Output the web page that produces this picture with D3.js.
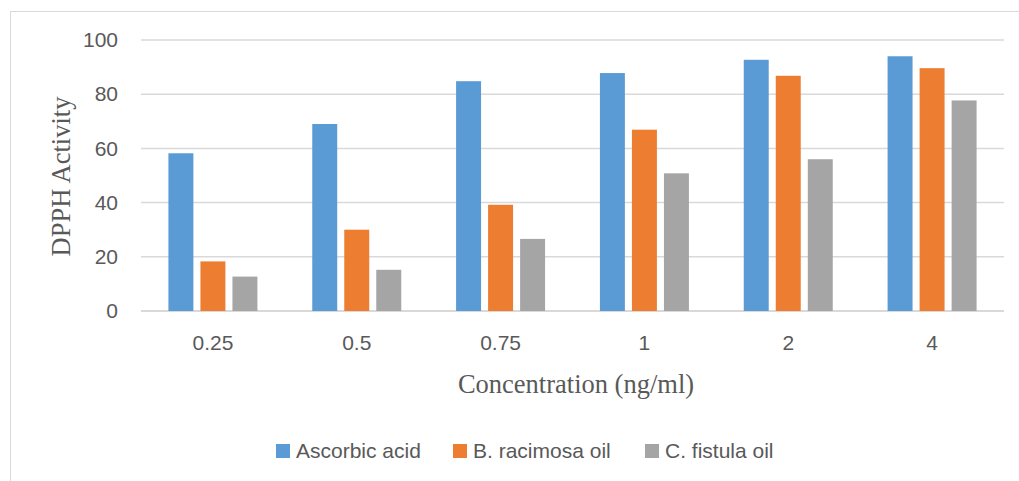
<!DOCTYPE html>
<html><head><meta charset="utf-8">
<script src="https://cdn.jsdelivr.net/npm/d3@7"></script>
<style>body{margin:0;background:#fff}</style>
</head><body><svg id="c" width="1019" height="481"></svg>
<script>
const categories = ["0.25","0.5","0.75","1","2","4"];
const seriesNames = ["Ascorbic acid","B. racimosa oil","C. fistula oil"];
const ascorbic = [58.2, 69.0, 84.8, 87.8, 92.7, 94.0];
const racimosa = [18.3, 30.0, 39.2, 66.9, 86.8, 89.6];
const fistula = [12.7, 15.2, 26.6, 50.8, 56.0, 77.7];
const yTicks = [0,20,40,60,80,100];
const colors = ["#5B9BD5","#ED7D31","#A5A5A5"];
const series = [ascorbic, racimosa, fistula];

const svg = d3.select("#c");
const L = 141, R = 1004, T = 40, B = 311;
const sans = "Liberation Sans, Arial, sans-serif";
const serif = "Liberation Serif, Times New Roman, serif";
// outer border
svg.append("rect").attr("x",10.5).attr("y",11.5).attr("width",1020).attr("height",480)
  .attr("fill","none").attr("stroke","#d9d9d9").attr("stroke-width",1);

const x0 = d3.scaleBand().domain(categories).range([L,R]);
const groupW = 89;
const x1 = d3.scaleBand().domain(seriesNames).range([0,groupW]).paddingInner(0.22);
const y = d3.scaleLinear().domain([0,100]).range([B,T]);

// gridlines
svg.append("g").selectAll("line").data(yTicks).join("line")
  .attr("x1",L).attr("x2",R).attr("y1",d=>y(d)).attr("y2",d=>y(d))
  .attr("stroke","#d9d9d9").attr("stroke-width",d=>d===0?2:1.5);

// y labels
const yAxis = svg.append("g").attr("transform",`translate(${L},0)`)
  .call(d3.axisLeft(y).tickValues(yTicks).tickSize(0).tickPadding(23));
yAxis.select(".domain").remove();
yAxis.selectAll("text").attr("font-family",sans)
  .attr("font-size",21).attr("fill","#595959");

// x labels
const xAxis = svg.append("g").attr("transform",`translate(0,${B})`)
  .call(d3.axisBottom(x0).tickSize(0));
xAxis.select(".domain").remove();
xAxis.selectAll("text").attr("font-family",sans).attr("y",39).attr("dy",0)
  .attr("font-size",21).attr("fill","#595959");

// bars
const groups = svg.append("g").selectAll("g").data(categories).join("g")
  .attr("transform",d=>`translate(${x0(d)+x0.bandwidth()/2-groupW/2},0)`);
groups.selectAll("rect").data((d,i)=>series.map((s,j)=>({name:seriesNames[j],v:s[i],c:colors[j]})))
  .join("rect")
  .attr("x",d=>x1(d.name)).attr("width",x1.bandwidth())
  .attr("y",d=>y(d.v)).attr("height",d=>y(0)-y(d.v))
  .attr("fill",d=>d.c);

// axis titles
svg.append("text").attr("transform","translate(70,176.5) rotate(-90)")
  .attr("text-anchor","middle").attr("font-family",serif)
  .attr("font-size",26.5).attr("fill","#595959").text("DPPH Activity");
svg.append("text").attr("x",576).attr("y",393)
  .attr("text-anchor","middle").attr("font-family",serif)
  .attr("font-size",26.5).attr("fill","#595959").text("Concentration (ng/ml)");

// legend
const legX = [276,453,645];
const leg = svg.append("g").selectAll("g").data(seriesNames).join("g")
  .attr("transform",(d,i)=>`translate(${legX[i]},444)`);
leg.append("rect").attr("width",14).attr("height",14).attr("fill",(d,i)=>colors[i]);
leg.append("text").attr("x",20).attr("y",14)
  .attr("font-family",sans).attr("font-size",21)
  .attr("fill","#595959").text(d=>d);
</script></body></html>
